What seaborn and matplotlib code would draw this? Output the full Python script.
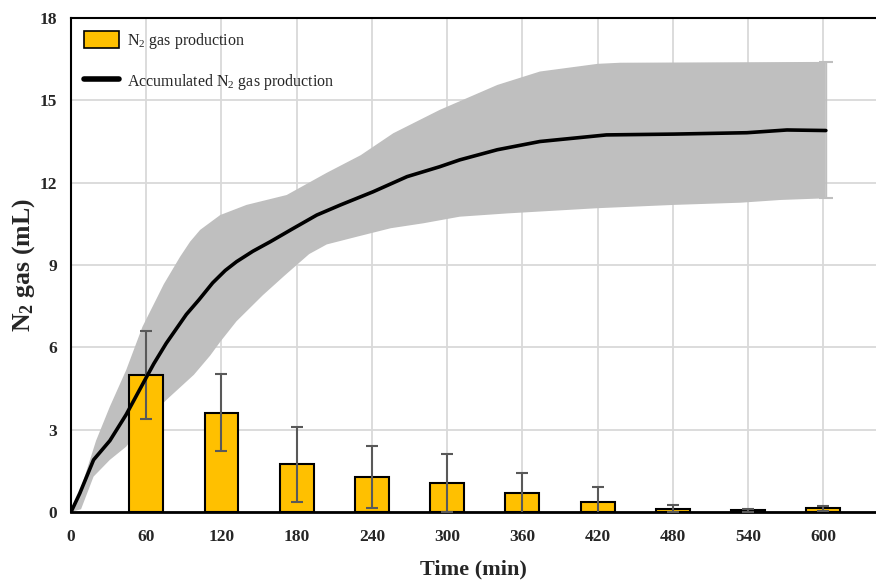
import numpy as np
import pandas as pd
import matplotlib
matplotlib.use("Agg")
import matplotlib.pyplot as plt
import seaborn as sns
from matplotlib.patches import Patch
from matplotlib.lines import Line2D

# ---- data ----
bar_times = [60, 120, 180, 240, 300, 360, 420, 480, 540, 600]
bar_values = [5.0, 3.62, 1.74, 1.28, 1.06, 0.68, 0.36, 0.12, 0.06, 0.13]
bar_errors = [1.6, 1.4, 1.37, 1.13, 1.05, 0.75, 0.54, 0.13, 0.05, 0.08]

acc_times = [0, 7, 18, 31, 44, 60, 66, 76, 92, 102, 113, 123, 132, 145, 159,
             176, 196, 215, 241, 268, 294, 310, 340, 374, 427, 481, 539, 571,
             602]
acc_values = [0, 0.68, 1.9, 2.6, 3.55, 4.9, 5.4, 6.15, 7.2, 7.73, 8.35, 8.8,
              9.12, 9.5, 9.85, 10.3, 10.82, 11.19, 11.67, 12.22, 12.58,
              12.83, 13.2, 13.5, 13.74, 13.77, 13.82, 13.92, 13.9]

upper_times = [0, 4, 20, 31, 44, 57, 68, 74, 87, 95, 103, 119, 140, 172,
               204, 231, 257, 294, 340, 374, 420, 438, 602]
upper_values = [0, 0.3, 2.6, 3.84, 5.17, 6.75, 7.75, 8.3, 9.3, 9.85, 10.28,
                10.82, 11.19, 11.55, 12.36, 13.0, 13.8, 14.65, 15.56, 16.05,
                16.33, 16.37, 16.4]

lower_times = [0, 8, 18, 31, 44, 60, 76, 98, 111, 119, 132, 153, 170, 180,
               190, 204, 228, 255, 281, 310, 348, 420, 481, 534, 566, 602]
lower_values = [0, 0.1, 1.29, 1.9, 2.38, 3.35, 4.08, 5.0, 5.7, 6.2, 6.95,
                7.9, 8.6, 9.0, 9.4, 9.75, 10.03, 10.34, 10.52, 10.76, 10.88,
                11.07, 11.19, 11.27, 11.37, 11.43]

x_ticks = [0, 60, 120, 180, 240, 300, 360, 420, 480, 540, 600]
y_ticks = [0, 3, 6, 9, 12, 15, 18]

# ---- style ----
sns.set_style("white")
plt.rcParams['font.family'] = ['Liberation Serif', 'DejaVu Serif']
plt.rcParams['mathtext.fontset'] = 'custom'
plt.rcParams['mathtext.rm'] = 'Liberation Serif'

fig = plt.figure(figsize=(8.76, 5.81), dpi=100)
ax = fig.add_axes([71 / 876, 69 / 581, 805 / 876, 494 / 581])

# band
band_x = np.concatenate([upper_times, lower_times[::-1]])
band_y = np.concatenate([upper_values, lower_values[::-1]])
ax.fill(band_x, band_y, color='#BFBFBF', lw=0, zorder=1)
ax.errorbar([upper_times[-1]], [acc_values[-1]],
            yerr=[[acc_values[-1] - lower_values[-1]],
                  [upper_values[-1] - acc_values[-1]]],
            fmt='none', ecolor='#BFBFBF', elinewidth=1, capsize=5,
            capthick=1.5, zorder=1)

# bars
df_bar = pd.DataFrame({"t": bar_times, "v": bar_values})
sns.barplot(data=df_bar, x="t", y="v", native_scale=True, width=0.45,
            color='#FFC000', edgecolor='black', linewidth=1.5,
            errorbar=None, ax=ax, zorder=2, saturation=1)
ax.errorbar(bar_times, bar_values, yerr=bar_errors, fmt='none',
            ecolor='#595959', elinewidth=1.5, capsize=4.5, capthick=1.5,
            zorder=3)

# accumulated line
sns.lineplot(x=acc_times, y=acc_values, color='black', lw=2.6, ax=ax,
             zorder=4)

ax.set_xlim(0, 642)
ax.set_ylim(0, 18)
ax.set_xticks(x_ticks)
ax.set_yticks(y_ticks)
ax.set_xticklabels([str(v) for v in x_ticks])
ax.grid(True, color='#D9D9D9', lw=1.3)
ax.set_axisbelow(True)

for lab in ax.get_xticklabels() + ax.get_yticklabels():
    lab.set_fontweight('bold')
    lab.set_fontsize(12.5)
ax.tick_params(axis='both', length=0)
ax.tick_params(axis='x', pad=12)
ax.tick_params(axis='y', pad=10)

ax.spines['right'].set_visible(False)
for s in ['top', 'left']:
    ax.spines[s].set_color('black')
    ax.spines[s].set_linewidth(1.5)
ax.spines['bottom'].set_color('black')
ax.spines['bottom'].set_linewidth(2)

ax.set_xlabel('Time (min)', fontsize=16, fontweight='bold', labelpad=11)
ax.set_ylabel(r'N$\mathregular{_2}$ gas (mL)', fontsize=18.5,
              fontweight='bold', labelpad=2)

handles = [Patch(facecolor='#FFC000', edgecolor='black', lw=1.2),
           Line2D([0], [0], color='black', lw=4)]
labels = [r'N$\mathregular{_2}$ gas production',
          r'Accumulated N$\mathregular{_2}$ gas production']
ax.legend(handles, labels, loc='upper left', frameon=False, fontsize=11.5,
          handlelength=2.2, handleheight=1.2, labelspacing=1.3,
          handletextpad=0.5, borderaxespad=0.4)

fig.savefig('out.png', dpi=100)
